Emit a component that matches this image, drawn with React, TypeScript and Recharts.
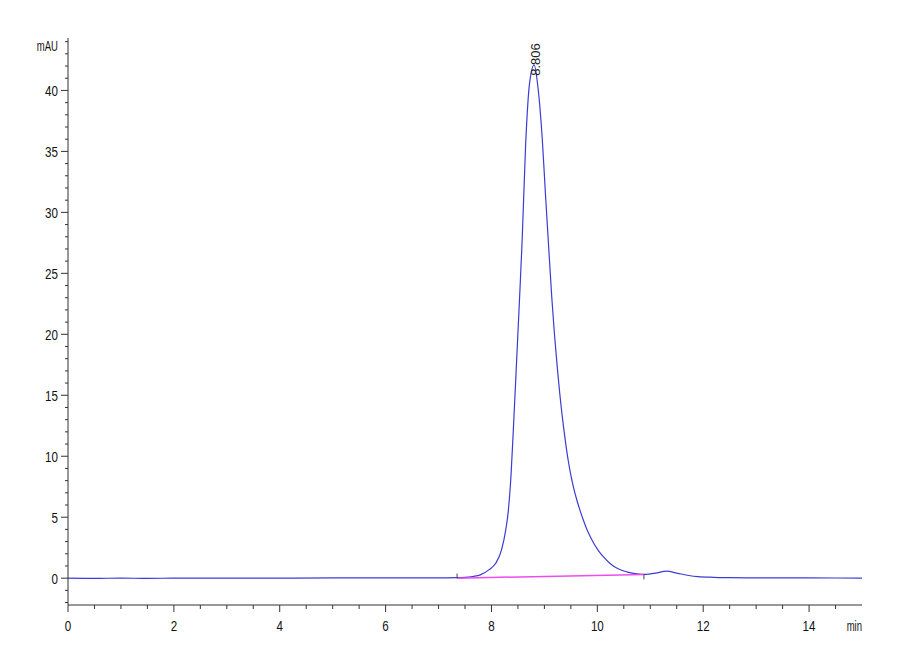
import React from "react";
import { LineChart, Line, XAxis, YAxis, ReferenceDot, ReferenceLine } from "recharts";

const times = [0, 0.5, 1, 1.5, 2, 3, 4, 5, 6, 7, 7.35, 7.5, 7.65, 7.79, 7.95, 8.08, 8.19, 8.27, 8.32, 8.36, 8.41, 8.47, 8.53, 8.58, 8.645, 8.72, 8.806, 8.88, 8.96, 9.02, 9.08, 9.14, 9.19, 9.24, 9.29, 9.36, 9.4, 9.45, 9.5, 9.55, 9.61, 9.67, 9.73, 9.79, 9.86, 9.94, 10.03, 10.13, 10.23, 10.34, 10.46, 10.59, 10.75, 10.88, 10.97, 11.1, 11.31, 11.5, 11.7, 11.9, 12.2, 12.5, 13, 14, 15];
const signal = [0, -0.02, 0.01, -0.02, 0, 0, 0, 0.02, 0.03, 0.03, 0.04, 0.06, 0.14, 0.27, 0.68, 1.22, 2.32, 3.96, 5.6, 7.8, 11.88, 17.35, 22.9, 27.75, 35.5, 40.6, 42.1, 40.2, 36.0, 31.5, 27.2, 23.0, 20.0, 17.45, 15.15, 12.45, 11.12, 9.65, 8.45, 7.45, 6.45, 5.6, 4.83, 4.14, 3.45, 2.8, 2.2, 1.68, 1.25, 0.9, 0.65, 0.48, 0.36, 0.31, 0.33, 0.42, 0.57, 0.42, 0.24, 0.12, 0.07, 0.04, 0.03, 0.02, 0.01];
const baselineTimes = [7.35, 10.88];
const baselineValues = [0, 0.31];
const peakTime = 8.806;
const peakHeight = 42.1;
const peakLabel = "8.806";
const xMajorTicks = [0, 2, 4, 6, 8, 10, 12, 14];
const yMajorTicks = [0, 5, 10, 15, 20, 25, 30, 35, 40];

const xTicks: number[] = [];
for (let i = 0; i <= 29; i++) xTicks.push(i * 0.5);
const yTicks: number[] = [];
for (let v = -2; v <= 44; v++) yTicks.push(v);

const data = times.map((t, i) => ({ t, v: signal[i] }));
const baseData = baselineTimes.map((t, i) => ({ t, b: baselineValues[i] }));

const FONT = "'Liberation Sans', Arial, sans-serif";
const AXIS = "#333";

const Narrow = (p: { x: number; y: number; anchor: string; size: number; sx?: number; children: any }) => (
  <text
    transform={`translate(${p.x} ${p.y}) scale(${p.sx ?? 0.8} 1)`}
    x={0}
    y={0}
    textAnchor={p.anchor}
    fontSize={p.size}
    fontFamily={FONT}
    fill="#111"
  >
    {p.children}
  </text>
);

const XTick = (props: any) => {
  const { x, y, payload } = props;
  const major = xMajorTicks.includes(payload.value);
  return (
    <g>
      <line x1={x} x2={x} y1={y} y2={y + (major ? 7 : 4)} stroke={AXIS} strokeWidth={1} />
      {major && (
        <Narrow x={x} y={y + 26} anchor="middle" size={14.5}>
          {payload.value}
        </Narrow>
      )}
    </g>
  );
};

const YTick = (props: any) => {
  const { x, y, payload } = props;
  const major = yMajorTicks.includes(payload.value);
  return (
    <g>
      <line x1={x - (major ? 7 : 3)} x2={x} y1={y} y2={y} stroke={AXIS} strokeWidth={1} />
      {major && (
        <Narrow x={x - 10} y={y + 6} anchor="end" size={14.5}>
          {payload.value}
        </Narrow>
      )}
    </g>
  );
};

const PeakLabel = (props: any) => {
  const { cx, cy } = props;
  if (cx == null || cy == null) return null;
  const ax = cx + 6;
  const ay = cy + 11;
  return (
    <text
      x={ax}
      y={ay}
      transform={`rotate(-90 ${ax} ${ay})`}
      textAnchor="start"
      fontSize={13}
      fontFamily={FONT}
      fill="#222"
    >
      {peakLabel}
    </text>
  );
};

export default function App() {
  return (
    <div style={{ position: "absolute", left: 0, top: 0, width: 900, height: 660, background: "#fff" }}>
      <LineChart width={900} height={660} margin={{ top: 38, right: 38, left: 0, bottom: 0 }}>
        <XAxis
          dataKey="t"
          type="number"
          domain={[0, 15]}
          ticks={xTicks}
          interval={0}
          allowDataOverflow
          height={55}
          tickSize={0}
          tickMargin={0}
          tickLine={false}
          tick={<XTick />}
          axisLine={{ stroke: AXIS, strokeWidth: 1 }}
        />
        <YAxis
          type="number"
          domain={[-2.2, 44.3]}
          ticks={yTicks}
          interval={0}
          allowDataOverflow
          width={68}
          tickSize={0}
          tickMargin={0}
          tickLine={false}
          tick={<YTick />}
          axisLine={{ stroke: AXIS, strokeWidth: 1 }}
        />
        <Line
          data={data}
          dataKey="v"
          type="monotone"
          stroke="#3c3cd4"
          strokeWidth={1.2}
          dot={false}
          isAnimationActive={false}
        />
        <Line
          data={baseData}
          dataKey="b"
          type="linear"
          stroke="#ee4cee"
          strokeWidth={1.5}
          dot={false}
          isAnimationActive={false}
        />
        <ReferenceLine segment={[{ x: 7.35, y: 0 }, { x: 7.35, y: 0.38 }]} stroke="#444" strokeWidth={1} />
        <ReferenceLine segment={[{ x: 10.88, y: 0.31 }, { x: 10.88, y: -0.1 }]} stroke="#444" strokeWidth={1} />
        <ReferenceDot x={peakTime} y={peakHeight} r={0} shape={<PeakLabel />} />
        <Narrow x={58} y={51} anchor="end" size={14} sx={0.68}>mAU</Narrow>
        <Narrow x={862} y={631} anchor="end" size={14} sx={0.68}>min</Narrow>
      </LineChart>
    </div>
  );
}
